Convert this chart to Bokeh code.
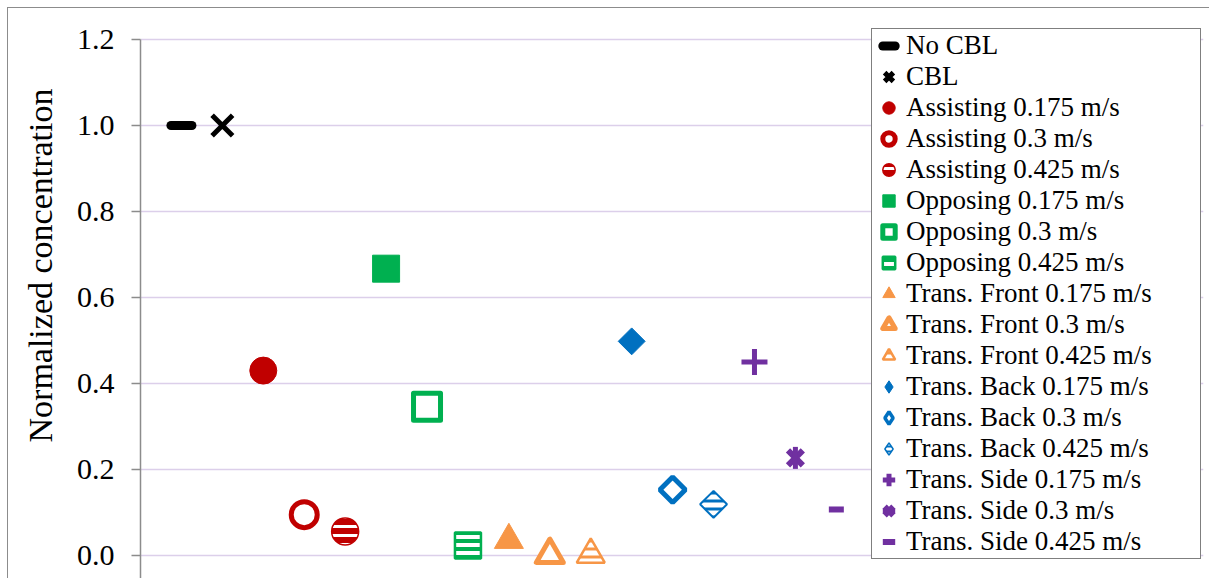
import numpy as np
from bokeh.plotting import figure
from bokeh.models import Range1d, FixedTicker, PrintfTickFormatter, Legend, LegendItem, ColumnDataSource, Title
from bokeh.embed import file_html
from bokeh.resources import INLINE

# ---- data ----
series_labels = [
    "No CBL", "CBL",
    "Assisting 0.175 m/s", "Assisting 0.3 m/s", "Assisting 0.425 m/s",
    "Opposing 0.175 m/s", "Opposing 0.3 m/s", "Opposing 0.425 m/s",
    "Trans. Front 0.175 m/s", "Trans. Front 0.3 m/s", "Trans. Front 0.425 m/s",
    "Trans. Back 0.175 m/s", "Trans. Back 0.3 m/s", "Trans. Back 0.425 m/s",
    "Trans. Side 0.175 m/s", "Trans. Side 0.3 m/s", "Trans. Side 0.425 m/s",
]
x_positions = [1, 2, 3, 4, 5, 6, 7, 8, 9, 10, 11, 12, 13, 14, 15, 16, 17]
y_values = [1.0, 1.0, 0.43, 0.095, 0.056, 0.667, 0.346, 0.023,
            0.036, 0.002, 0.002, 0.498, 0.153, 0.119, 0.45, 0.227, 0.107]
y_ticks = [0.0, 0.2, 0.4, 0.6, 0.8, 1.0, 1.2]
y_title = "Normalized concentration"

# ---- styles ----
RED, GREEN, ORANGE, BLUE, PURPLE = "#C00000", "#00B050", "#F79646", "#0070C0", "#7030A0"
Q = np.pi / 4
H = np.pi / 2
styles = [
    [dict(marker="dash", size=21, line_color="black", line_width=9, line_cap="round")],
    [dict(marker="x", size=29, line_color="black", line_width=5)],
    [dict(marker="circle", size=27, fill_color=RED, line_color=RED, line_width=1)],
    [dict(marker="circle", size=26, fill_color="white", line_color=RED, line_width=5)],
    [dict(marker="circle", size=27, fill_color=RED, line_color=RED, line_width=1.5,
          hatch_pattern="horizontal_line", hatch_color="white", hatch_scale=9, hatch_weight=3)],
    [dict(marker="square", size=27, fill_color=GREEN, line_color=GREEN, line_width=1)],
    [dict(marker="square", size=27, fill_color="white", line_color=GREEN, line_width=5, line_join="round")],
    [dict(marker="square", size=26, fill_color="white", line_color=GREEN, line_width=2.5,
          hatch_pattern="horizontal_line", hatch_color=GREEN, hatch_scale=8, hatch_weight=4)],
    [dict(marker="triangle", size=29, fill_color=ORANGE, line_color=ORANGE, line_width=1)],
    [dict(marker="triangle", size=27, fill_color="white", line_color=ORANGE, line_width=5, line_join="round")],
    [dict(marker="triangle", size=28, fill_color="white", line_color=ORANGE, line_width=2.5,
          hatch_pattern="horizontal_line", hatch_color=ORANGE, hatch_scale=8, hatch_weight=3)],
    [dict(marker="square", size=19, angle=Q, fill_color=BLUE, line_color=BLUE, line_width=1)],
    [dict(marker="square", size=18, angle=Q, fill_color="white", line_color=BLUE, line_width=5)],
    [dict(marker="square", size=19, angle=Q, fill_color="white", line_color=BLUE, line_width=2,
          hatch_pattern="horizontal_line", hatch_color=BLUE, hatch_scale=8, hatch_weight=3)],
    [dict(marker="cross", size=26, line_color=PURPLE, line_width=5)],
    [dict(marker="x", size=21, line_color=PURPLE, line_width=6),
     dict(marker="dash", size=22, angle=H, line_color=PURPLE, line_width=5)],
    [dict(marker="dash", size=15, line_color=PURPLE, line_width=6)],
]
# legend swatches for the diamond series (legend glyphs ignore marker rotation)
legend_swatch = {
    11: dict(marker="diamond", size=34, fill_color=BLUE, line_color=BLUE, line_width=1),
    12: dict(marker="diamond", size=34, fill_color="white", line_color=BLUE, line_width=3.5),
    13: dict(marker="diamond", size=34, fill_color="white", line_color=BLUE, line_width=1.5,
             hatch_pattern="horizontal_line", hatch_color=BLUE, hatch_scale=5, hatch_weight=2),
}

FONT = "Liberation Serif"
Y0, Y1 = -0.0535, 1.2279   # frame reaches the top of the legend box

p = figure(width=1201, height=570,
           x_range=Range1d(0, 25.97), y_range=Range1d(Y0, Y1),
           x_axis_location=None,
           output_backend="svg", toolbar_location=None,
           min_border_left=132, min_border_right=6,
           min_border_top=19, min_border_bottom=0)
p.styles = {"margin-left": "8px", "margin-top": "8px", "outline": "1px solid #8C8C8C"}
p.outline_line_color = None
p.background_fill_color = "white"
p.border_fill_color = "white"

p.xgrid.visible = False
p.ygrid.grid_line_color = "#DCCFEA"
p.ygrid.grid_line_width = 1.5

ax = p.yaxis[0]
ax.ticker = FixedTicker(ticks=y_ticks)
ax.bounds = (Y0, y_ticks[-1])
ax.formatter = PrintfTickFormatter(format="%.1f")
ax.axis_line_color = "#8C8C8C"
ax.axis_line_width = 1.5
ax.major_tick_line_color = "#8C8C8C"
ax.major_tick_line_width = 1.5
ax.major_tick_out = 9
ax.major_tick_in = 0
ax.minor_tick_line_color = None
ax.major_label_text_font = FONT
ax.major_label_text_font_size = "30px"
ax.major_label_text_color = "black"
ax.major_label_standoff = 17

p.add_layout(Title(text=y_title, align="left", offset=136, standoff=25, vertical_align="top",
                   text_font=FONT, text_font_size="34px", text_font_style="normal",
                   text_color="black"), "left")

items = []
for i, (lab, xv, yv, sts) in enumerate(zip(series_labels, x_positions, y_values, styles)):
    src = ColumnDataSource(dict(x=[xv], y=[yv]))
    rs = [p.scatter("x", "y", source=src, **st) for st in sts]
    if i in legend_swatch:
        sw = p.scatter("x", "y", source=src, **legend_swatch[i])
        sw.visible = False
        rs = [sw]
    items.append(LegendItem(label=lab, renderers=rs))

legend = Legend(items=items, location=(731, 19),
                label_text_font=FONT, label_text_font_size="27px", label_text_color="black",
                glyph_width=31, glyph_height=31, label_height=31, label_width=293,
                label_standoff=2, padding=1, spacing=0, margin=0,
                border_line_color="black", border_line_width=1.5,
                background_fill_color="white", background_fill_alpha=1.0,
                inactive_fill_alpha=0.0)
p.add_layout(legend)

open("out.html", "w").write(file_html(p, INLINE))
